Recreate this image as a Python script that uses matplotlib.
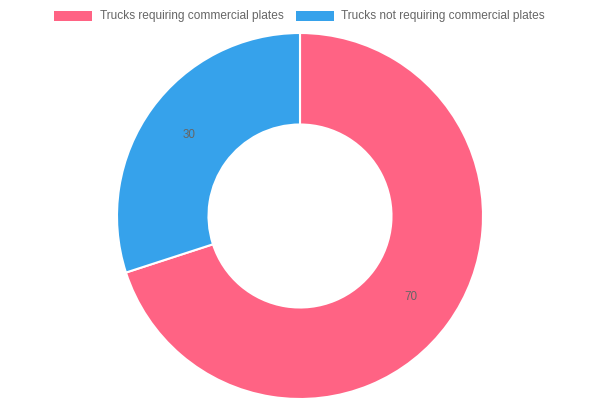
import matplotlib
matplotlib.use("Agg")
import matplotlib.pyplot as plt
from matplotlib.patches import Rectangle
import numpy as np

labels = ["Trucks requiring commercial plates", "Trucks not requiring commercial plates"]
values = [70, 30]
colors = ["#FF6384", "#36A2EB"]

W, H = 600, 400
fig = plt.figure(figsize=(6, 4), dpi=100)
ax = fig.add_axes([0, 0, 1, 1])
ax.set_aspect("equal")
ax.axis("off")

cx, cy = 300, H - 216
R, r = 183, 91.5
wedges, _ = ax.pie(values, colors=colors, startangle=90, counterclock=False,
                   center=(cx, cy), radius=R,
                   wedgeprops=dict(width=R - r, edgecolor="white", linewidth=1.5))
ax.set_xlim(0, W)
ax.set_ylim(0, H)

total = sum(values)
start = 90.0
rm = (R + r) / 2
for v in values:
    ang = start - v / total * 360 / 2
    x = cx + rm * np.cos(np.radians(ang))
    y = cy + rm * np.sin(np.radians(ang))
    ax.text(x, y, str(v), ha="center", va="center", fontsize=8.4,
            color="#666666", family="Liberation Sans")
    start -= v / total * 360

# legend
box_x = [54, 296]
text_x = [100, 341]
for bx, tx, lab, col in zip(box_x, text_x, labels, colors):
    ax.add_patch(Rectangle((bx, H - 21), 38, 10, facecolor=col, edgecolor="none"))
    ax.text(tx, H - 16, lab, ha="left", va="center", fontsize=8.55,
            color="#666666", family="Liberation Sans")

fig.savefig("out.png", dpi=100)
